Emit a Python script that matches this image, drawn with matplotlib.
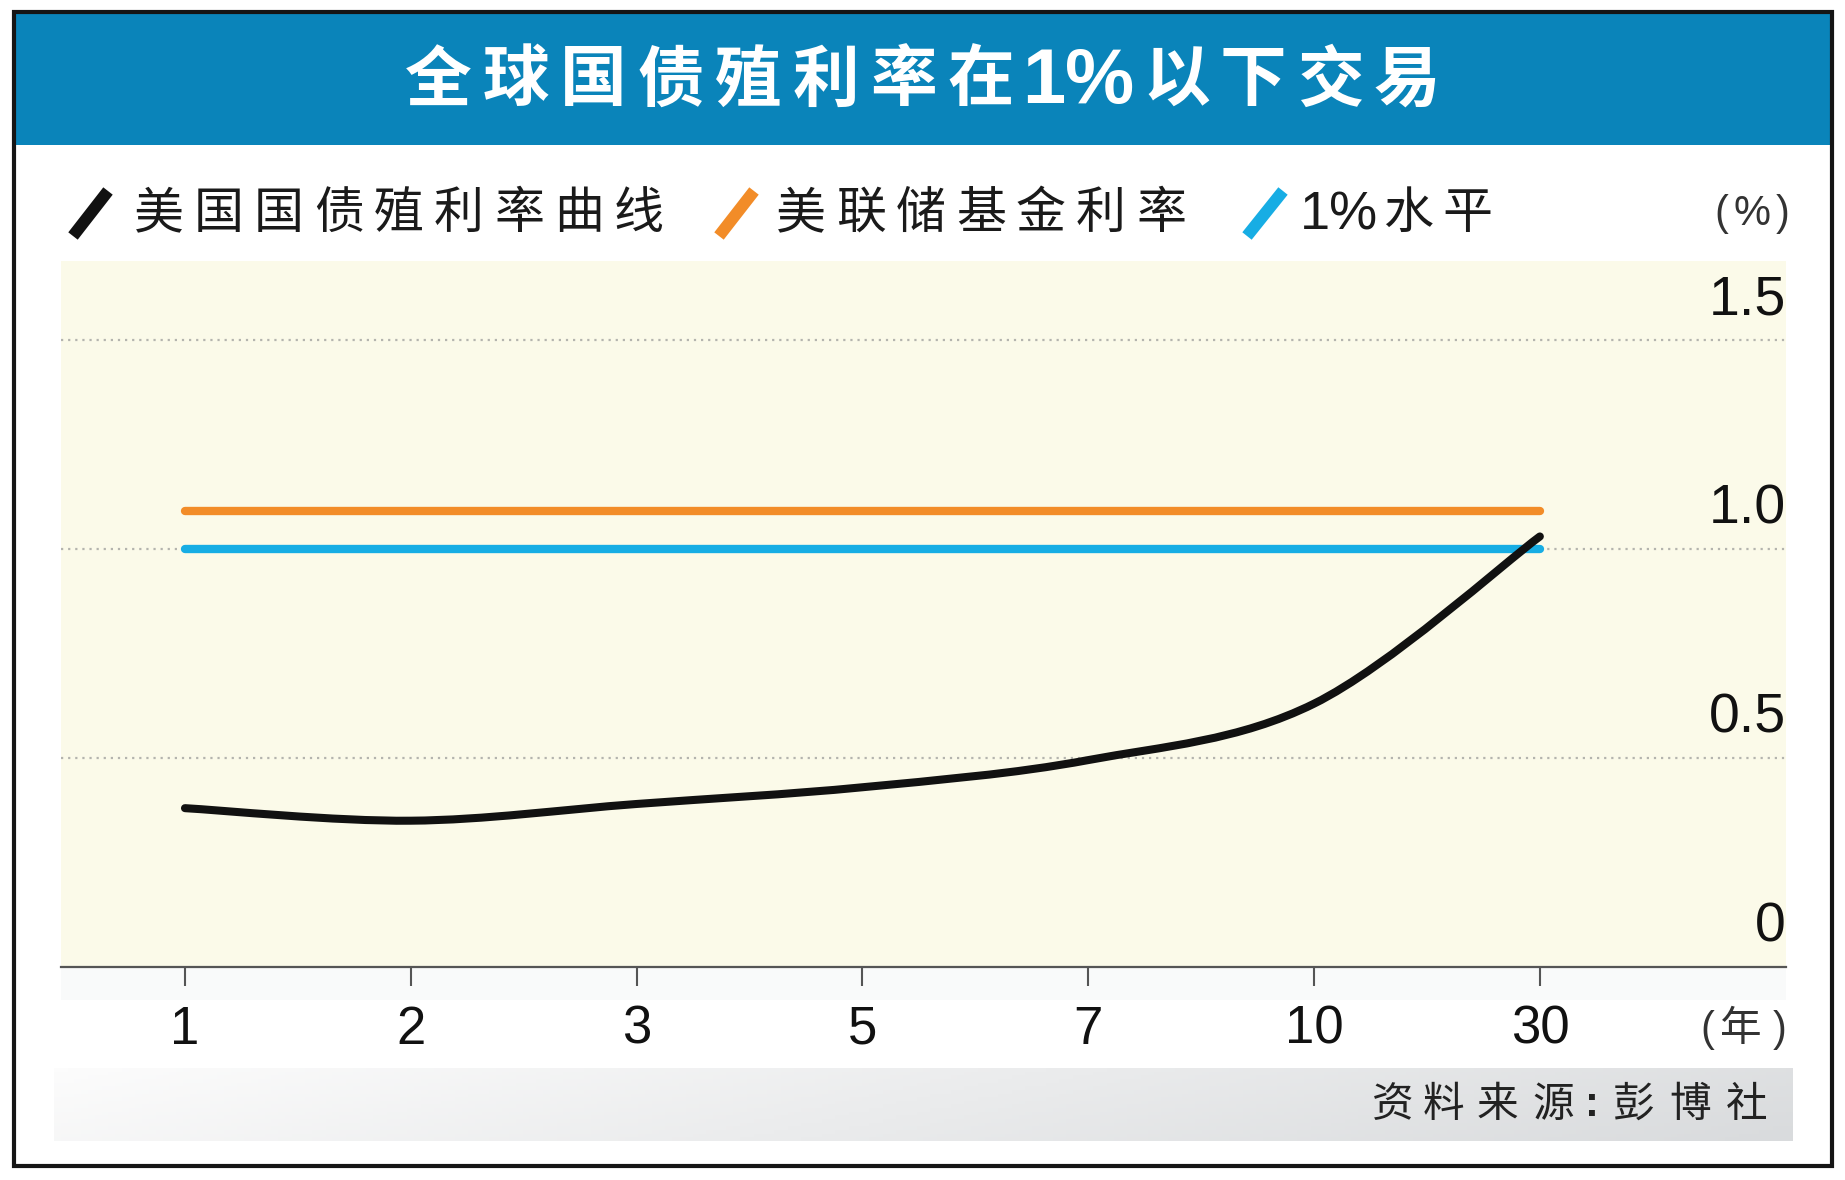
import matplotlib
matplotlib.use('Agg')
import matplotlib.pyplot as plt
import numpy as np
from matplotlib.path import Path
from matplotlib.patches import PathPatch, Rectangle
from matplotlib.lines import Line2D
from matplotlib.transforms import offset_copy

# data
MATURITIES = ['1', '2', '3', '5', '7', '10', '30']
US_YIELD = [0.38, 0.35, 0.39, 0.43, 0.495, 0.63, 1.03]
FED_RATE = [1.09] * len(MATURITIES)
ONE_PCT = [1.0] * len(MATURITIES)
Y_TICKS = [0, 0.5, 1.0, 1.5]
Y_LABELS = ['0', '0.5', '1.0', '1.5']

TITLE = '全球国债殖利率在1%以下交易'
LEGEND = ['美国国债殖利率曲线', '美联储基金利率', '1%水平']
SOURCE = '资料来源:彭博社'

# style
W, H = 1845, 1180
CJK = ['Noto Sans CJK SC', 'DejaVu Sans']
NUM = ['Liberation Sans', 'DejaVu Sans']
BLUE_BAR = '#0A84BA'
CREAM = '#FBFAE9'
BLACK = '#111111'
ORANGE = '#F28C28'
CYAN = '#17ADE4'
GRID = '#B4B4AE'
AXIS = '#555555'
TXT = '#1a1a1a'

plt.rcParams['font.family'] = CJK


def fx(x):
    return x / W


def fy(y):
    return 1 - y / H


def spaced(fig, x0, y, s, pitch, ha='left', **kw):
    # place characters one by one with a fixed pitch (px)
    for i, ch in enumerate(s):
        fig.text(fx(x0 + i * pitch), fy(y), ch, ha=ha, va='center', **kw)


def smooth_path(xs, ys):
    # catmull-rom style bezier through the data points
    verts = [(xs[0], ys[0])]
    codes = [Path.MOVETO]
    n = len(xs)
    for i in range(n - 1):
        x0, y0 = (xs[i - 1], ys[i - 1]) if i > 0 else (xs[i], ys[i])
        x1, y1 = xs[i], ys[i]
        x2, y2 = xs[i + 1], ys[i + 1]
        x3, y3 = (xs[i + 2], ys[i + 2]) if i + 2 < n else (x2, y2)
        c1 = (x1 + (x2 - x0) / 6.0, y1 + (y2 - y0) / 6.0)
        c2 = (x2 - (x3 - x1) / 6.0, y2 - (y3 - y1) / 6.0)
        verts += [c1, c2, (x2, y2)]
        codes += [Path.CURVE4] * 3
    return Path(verts, codes)


fig = plt.figure(figsize=(W / 100, H / 100), dpi=100)
fig.patch.set_facecolor('white')

# title bar and frame
fig.patches.append(Rectangle((fx(14), fy(145)), fx(1832 - 14), (145 - 12) / H,
                             transform=fig.transFigure, facecolor=BLUE_BAR,
                             edgecolor='none', zorder=1))
fig.patches.append(Rectangle((fx(14), fy(1166)), fx(1832 - 14), (1166 - 12) / H,
                             transform=fig.transFigure, facecolor='none',
                             edgecolor='#151515', lw=3, zorder=2))
fig.patches.append(Rectangle((fx(61), fy(1000)), fx(1786 - 61), (1000 - 967) / H,
                             transform=fig.transFigure, facecolor='#F9FAFA',
                             edgecolor='none', zorder=-2))

TY = 81
spaced(fig, 405, TY, TITLE[:8], 77.5, color='white', fontsize=48,
       fontweight='bold', zorder=5)
fig.text(fx(1022), fy(TY + 2), '1%', ha='left', va='center', color='white',
         fontsize=56, fontweight='bold', family=NUM, zorder=5)
spaced(fig, 1143, TY, TITLE[10:], 77, color='white', fontsize=48,
       fontweight='bold', zorder=5)

# legend
LY = 214
for (xa, xb), col in zip([(73, 108), (719, 754), (1247, 1283)], [BLACK, ORANGE, CYAN]):
    fig.add_artist(Line2D([fx(xa), fx(xb)], [fy(LY + 22), fy(LY - 23)], transform=fig.transFigure,
                          color=col, lw=8.6, solid_capstyle='butt'))
spaced(fig, 134, LY, LEGEND[0], 60, fontsize=36, color=TXT)
spaced(fig, 776, LY, LEGEND[1], 60, fontsize=36, color=TXT)
fig.text(fx(1300), fy(LY + 2), '1%', ha='left', va='center', fontsize=39,
         family=NUM, color=TXT)
spaced(fig, 1383, LY, LEGEND[2][2:], 59, fontsize=36, color=TXT)
for ch, x in zip(['(', '%', ')'], [1721, 1752, 1783]):
    fig.text(fx(x), fy(LY), ch, ha='center', va='center', fontsize=30,
             family=NUM, color='#333333')

# main axes
ax = fig.add_axes([fx(61), fy(967), fx(1786 - 61), (967 - 261) / H])
ax.set_facecolor(CREAM)
xs = np.arange(len(MATURITIES))
ax.set_xlim(-0.549, 7.09)
ax.set_ylim(0, 1.689)

for v in Y_TICKS[1:]:
    ax.axhline(v, color=GRID, lw=1.6, ls=(0, (1, 2.2)), zorder=1)

ax.plot(xs, FED_RATE, color=ORANGE, lw=6, solid_capstyle='round', zorder=3)
ax.plot(xs, ONE_PCT, color=CYAN, lw=6, solid_capstyle='round', zorder=3)
ax.add_patch(PathPatch(smooth_path(xs, US_YIELD), fill=False, edgecolor=BLACK,
                       lw=5.8, capstyle='round', zorder=4))

for s in ['top', 'left', 'right']:
    ax.spines[s].set_visible(False)
ax.spines['bottom'].set_color(AXIS)
ax.spines['bottom'].set_linewidth(1.6)
ax.set_yticks([])
ax.set_xticks(xs)
ax.set_xticklabels(MATURITIES, family=NUM, fontsize=38, color='#111111')
ax.tick_params(axis='x', direction='out', length=14, width=1.5, color=AXIS, pad=13)

ylab_tr = offset_copy(ax.get_yaxis_transform(), fig=fig, x=0, y=40, units='dots')
for v, lab in zip(Y_TICKS, Y_LABELS):
    ax.text(1.0, v, lab, transform=ylab_tr, ha='right', va='center',
            family=NUM, fontsize=40, color='#111111')

for ch, x in zip(['(', '年', ')'], [1707, 1741, 1780]):
    fig.text(fx(x), fy(1030), ch, ha='center', va='center', fontsize=30,
             color='#333333', family=NUM if ch != '年' else CJK)

# footer gradient
fax = fig.add_axes([fx(54), fy(1141), fx(1793 - 54), (1141 - 1068) / H], zorder=-1)
grad = np.linspace(0, 1, 256)[None, :] * np.ones((20, 1))
grad = grad * 0.85 + np.linspace(0, 0.15, 20)[:, None]
fax.imshow(grad, aspect='auto', cmap=matplotlib.colors.LinearSegmentedColormap.from_list(
    'foot', ['#FCFCFC', '#D9DBDD']), extent=(0, 1, 0, 1), vmin=0, vmax=1)
fax.axis('off')

# source line
SRC_X = [1393, 1443, 1497, 1553, 1592, 1634, 1690, 1747]
for ch, x in zip(SOURCE, SRC_X):
    fig.text(fx(x), fy(1105), ch, ha='center', va='center', fontsize=30,
             color='#222222', zorder=5, family=NUM if ch == ':' else CJK,
             fontweight='bold' if ch == ':' else 'normal')

plt.savefig('out.png', dpi=100)
